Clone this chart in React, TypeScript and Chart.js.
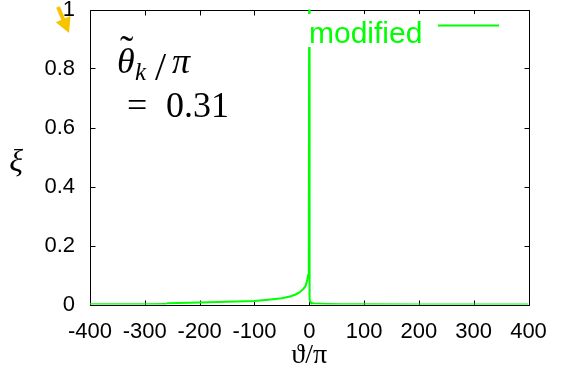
import React, { useEffect, useRef } from "react";
import { Chart, registerables } from "chart.js";

Chart.register(...registerables);

// ---- data ----
const thetaOverPi = [
  -400, -350, -300, -262, -258, -200, -150, -100, -75, -50, -35, -25, -18, -11, -7, -4, -2, -1, -0.5, 0,
  0.6, 1.5, 3, 5, 10, 30, 60, 100, 200, 300, 400,
];
const xiValues = [
  0.0008, 0.001, 0.0012, 0.0015, 0.0045, 0.007, 0.009, 0.012, 0.016, 0.021, 0.027, 0.034, 0.041, 0.052, 0.062, 0.08,
  0.1, 0.125, 0.16, 1.3, 0.02, 0.01, 0.006, 0.004, 0.003, 0.002, 0.0012, 0.0006, 0.0004, 0.0003, 0.0002,
];
const xMin = -400;
const xMax = 400;
const xStep = 100;
const yMin = 0;
const yMax = 1;
const yStep = 0.2;
const seriesLabel = "modified";
const xAxisTitle = "ϑ/π";
const yAxisTitle = "ξ";
const annoTheta = "θ";
const annoTilde = "˜";
const annoSub = "k";
const annoSlash = "/";
const annoPi = "π";
const annoEq = "=";
const annoValue = "0.31";

const GREEN = "#00ff00";
const SANS = "'Liberation Sans', Arial, sans-serif";
const SERIF = "'Liberation Serif', 'DejaVu Serif', serif";

const fmt = (v: number) => String(Number(v.toFixed(2)));

const decorPlugin = {
  id: "decor",
  beforeDatasetsDraw(chart: any) {
    const { ctx, chartArea: a } = chart;
    const xs = chart.scales.x;
    const ys = chart.scales.y;
    ctx.save();
    ctx.strokeStyle = "#000";
    ctx.lineWidth = 1;
    ctx.beginPath();
    const L = Math.round(a.left) + 0.5;
    const R = Math.round(a.right) + 0.5;
    const T = Math.round(a.top) + 0.5;
    const B = Math.round(a.bottom) + 0.5;
    ctx.rect(L, T, R - L, B - T);
    const tl = 5;
    xs.ticks.forEach((t: any) => {
      const px = Math.round(xs.getPixelForValue(t.value)) + 0.5;
      ctx.moveTo(px, B);
      ctx.lineTo(px, B - tl);
      ctx.moveTo(px, T);
      ctx.lineTo(px, T + tl);
    });
    ys.ticks.forEach((t: any) => {
      const py = Math.round(ys.getPixelForValue(t.value)) + 0.5;
      ctx.moveTo(L, py);
      ctx.lineTo(L + tl, py);
      ctx.moveTo(R, py);
      ctx.lineTo(R - tl, py);
    });
    ctx.stroke();
    ctx.restore();
  },
  afterDatasetsDraw(chart: any) {
    const { ctx, chartArea: a } = chart;
    ctx.save();
    // legend (opaque key box)
    ctx.fillStyle = "#fff";
    ctx.fillRect(304, 14, 200, 33);
    ctx.fillStyle = GREEN;
    ctx.font = `30px ${SANS}`;
    ctx.textAlign = "left";
    ctx.textBaseline = "alphabetic";
    ctx.fillText(seriesLabel, 309, 43);
    ctx.strokeStyle = GREEN;
    ctx.lineWidth = 2;
    ctx.beginPath();
    ctx.moveTo(438, 25.5);
    ctx.lineTo(499, 25.5);
    ctx.stroke();

    // annotation
    ctx.fillStyle = "#000";
    ctx.font = `italic 36px ${SERIF}`;
    ctx.fillText(annoTheta, 117, 73);
    ctx.font = `40px ${SERIF}`;
    ctx.fillText(annoTilde, 120, 63);
    ctx.font = `italic 25px ${SERIF}`;
    ctx.fillText(annoSub, 135, 80);
    ctx.font = `40px ${SERIF}`;
    ctx.fillText(annoSlash, 155, 80);
    ctx.font = `italic 36px ${SERIF}`;
    ctx.fillText(annoPi, 172, 73);
    ctx.font = `36px ${SERIF}`;
    ctx.fillText(annoEq, 127, 117);
    ctx.fillText(annoValue, 166, 117);

    // axis titles
    ctx.font = `italic 32px ${SERIF}`;
    ctx.textAlign = "center";
    ctx.textBaseline = "middle";
    ctx.fillText(yAxisTitle, 16, 163);
    ctx.font = `28px ${SERIF}`;
    ctx.fillText(xAxisTitle, (a.left + a.right) / 2, 356);

    // arrow
    const tip = [69, 33];
    const start = [58, 7];
    const dx = tip[0] - start[0];
    const dy = tip[1] - start[1];
    const len = Math.hypot(dx, dy);
    const ux = dx / len;
    const uy = dy / len;
    const hl = 15;
    const hw = 8;
    const bx = tip[0] - ux * hl;
    const by = tip[1] - uy * hl;
    ctx.strokeStyle = "#f8c400";
    ctx.fillStyle = "#f8c400";
    ctx.lineWidth = 4;
    ctx.beginPath();
    ctx.moveTo(start[0], start[1]);
    ctx.lineTo(bx + ux * 2, by + uy * 2);
    ctx.stroke();
    ctx.beginPath();
    ctx.moveTo(tip[0], tip[1]);
    ctx.lineTo(bx - uy * hw, by + ux * hw);
    ctx.lineTo(bx + uy * hw, by - ux * hw);
    ctx.closePath();
    ctx.fill();
    ctx.restore();
  },
};

export default function App() {
  const ref = useRef<HTMLCanvasElement | null>(null);
  useEffect(() => {
    if (!ref.current) return;
    const chart = new Chart(ref.current, {
      type: "line",
      data: {
        datasets: [
          {
            label: seriesLabel,
            data: thetaOverPi.map((x, i) => ({ x, y: xiValues[i] })),
            borderColor: GREEN,
            borderWidth: 2,
            pointRadius: 0,
            tension: 0,
            fill: false,
          },
        ],
      },
      options: {
        animation: false,
        responsive: false,
        devicePixelRatio: 1,
        layout: { padding: { top: 9.5, right: 38.5, left: 0, bottom: 0 } },
        plugins: { legend: { display: false }, tooltip: { enabled: false } },
        scales: {
          x: {
            type: "linear",
            min: xMin,
            max: xMax,
            ticks: {
              stepSize: xStep,
              color: "#000",
              font: { family: SANS, size: 22 },
              padding: 14,
              maxRotation: 0,
              autoSkip: false,
              callback: (v: any) => fmt(Number(v)),
            },
            grid: { display: false, drawTicks: false, tickLength: 0 },
            border: { display: false },
            afterFit: (s: any) => {
              s.height = 63.5;
              s.paddingLeft = 0;
              s.paddingRight = 0;
            },
          },
          y: {
            type: "linear",
            min: yMin,
            max: yMax,
            ticks: {
              stepSize: yStep,
              color: "#000",
              font: { family: SANS, size: 22 },
              padding: 15,
              callback: (v: any) => fmt(Number(v)),
            },
            grid: { display: false, drawTicks: false, tickLength: 0 },
            border: { display: false },
            afterFit: (s: any) => {
              s.width = 90;
              s.paddingTop = 0;
              s.paddingBottom = 0;
            },
          },
        },
      },
      plugins: [decorPlugin],
    } as any);
    return () => chart.destroy();
  }, []);
  return (
    <div style={{ position: "absolute", left: 0, top: 0, width: 567, height: 368, background: "#fff" }}>
      <canvas ref={ref} width={567} height={368} />
    </div>
  );
}
